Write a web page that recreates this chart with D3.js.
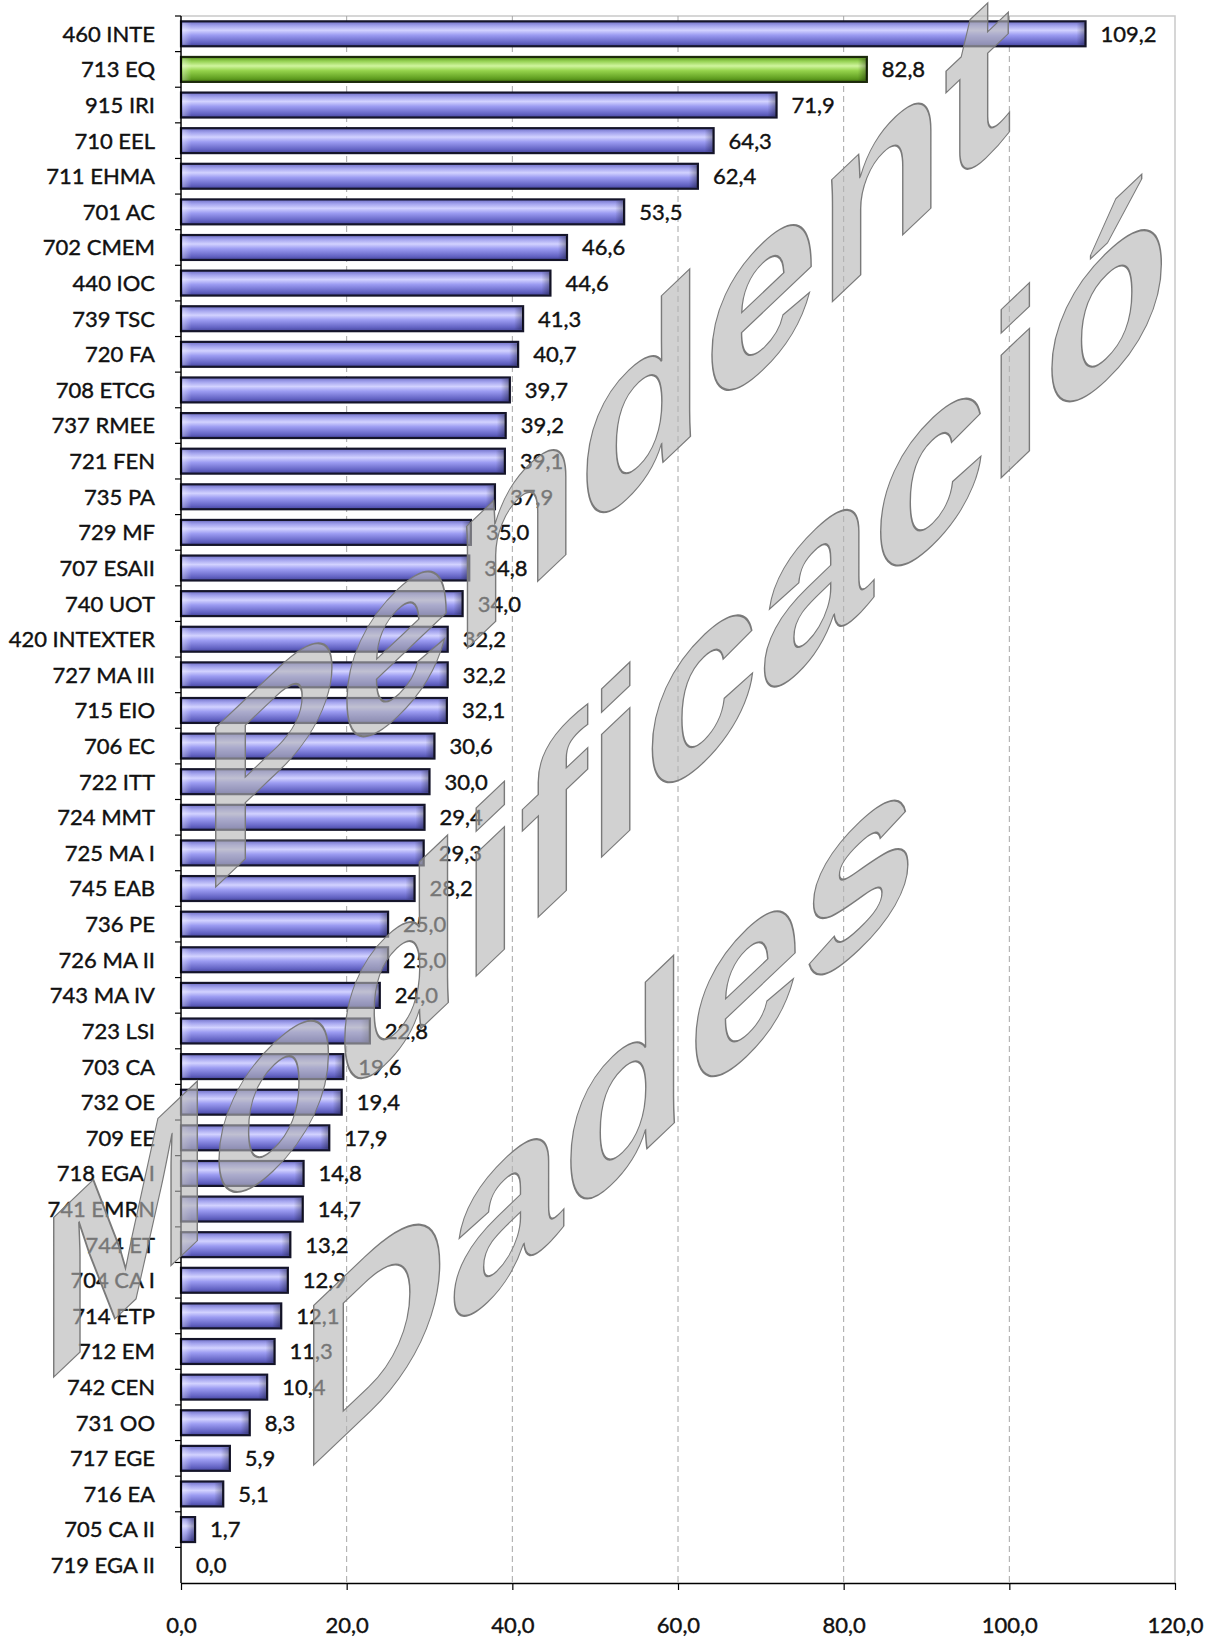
<!DOCTYPE html>
<html>
<head>
  <meta charset="utf-8">
  <title>Bar chart</title>
  <script src="https://d3js.org/d3.v7.min.js"></script>
  <style type="text/css">
    body {
      margin: 0;
      background: #fff;
    }

    text {
      font-family: Lato, "Open Sans", sans-serif;
    }

    .cat-label, .value-label, .tick-label {
      font-size: 22px;
      fill: #111;
      stroke: #111;
      stroke-width: 0.4px;
    }

    .grid {
      stroke: #a6a6a6;
      stroke-width: 1;
      stroke-dasharray: 6,4;
    }

    .frame {
      stroke: #c9c9c9;
      stroke-width: 1.5;
      fill: none;
    }

    .watermark {
      font-family: "Liberation Sans", Arial, sans-serif;
      font-weight: bold;
      font-size: 232px;
      fill: #b4b4b4;
      fill-opacity: 0.62;
      stroke: #7a7a7a;
      stroke-width: 1.6;
    }
  </style>
</head>
<body>
<script>
var categories = ['460 INTE', '713 EQ', '915 IRI', '710 EEL', '711 EHMA', '701 AC', '702 CMEM',
  '440 IOC', '739 TSC', '720 FA', '708 ETCG', '737 RMEE', '721 FEN', '735 PA', '729 MF',
  '707 ESAII', '740 UOT', '420 INTEXTER', '727 MA III', '715 EIO', '706 EC', '722 ITT',
  '724 MMT', '725 MA I', '745 EAB', '736 PE', '726 MA II', '743 MA IV', '723 LSI', '703 CA',
  '732 OE', '709 EE', '718 EGA I', '741 EMRN', '744 ET', '704 CA I', '714 ETP', '712 EM',
  '742 CEN', '731 OO', '717 EGE', '716 EA', '705 CA II', '719 EGA II'];

var values = [109.2, 82.8, 71.9, 64.3, 62.4, 53.5, 46.6,
  44.6, 41.3, 40.7, 39.7, 39.2, 39.1, 37.9, 35.0,
  34.8, 34.0, 32.2, 32.2, 32.1, 30.6, 30.0,
  29.4, 29.3, 28.2, 25.0, 25.0, 24.0, 22.8, 19.6,
  19.4, 17.9, 14.8, 14.7, 13.2, 12.9, 12.1, 11.3,
  10.4, 8.3, 5.9, 5.1, 1.7, 0.0];

var highlighted = ['713 EQ'];

var xTicks = [0, 20, 40, 60, 80, 100, 120];

var watermarkLines = ['Pendent', 'Modificació', 'Dades'];

var width = 1209,
    height = 1639;

// plot area edges (don't call these top/left: window.top is read-only)
var plotLeft = 181, plotRight = 1175, plotTop = 16, plotBottom = 1583;

var data = categories.map(function(c, i) { return {name: c, value: values[i]}; });

var svg = d3.select('body').append('svg')
    .attr('width', width)
    .attr('height', height);

var defs = svg.append('defs');

function barGradient(id, stops) {
  var g = defs.append('linearGradient')
      .attr('id', id)
      .attr('x1', 0).attr('y1', 0)
      .attr('x2', 0).attr('y2', 1);
  stops.forEach(function(s) {
    g.append('stop').attr('offset', s[0]).attr('stop-color', s[1]);
  });
}

barGradient('blueBar', [[0, '#6d6dc6'], [0.18, '#a4a4ee'], [0.36, '#d2d2ff'], [0.55, '#9c9cf2'], [0.85, '#6464c4'], [1, '#45459c']]);
barGradient('greenBar', [[0, '#5f9a1e'], [0.18, '#98d456'], [0.36, '#d0f59e'], [0.55, '#95d34c'], [0.85, '#62a022'], [1, '#44780e']]);

// little bevel at the right end of each bar
var bevel = defs.append('linearGradient')
    .attr('id', 'bevel')
    .attr('x1', 0).attr('y1', 0)
    .attr('x2', 1).attr('y2', 0);
bevel.append('stop').attr('offset', 0).attr('stop-color', '#000').attr('stop-opacity', 0);
bevel.append('stop').attr('offset', 1).attr('stop-color', '#000').attr('stop-opacity', 0.35);

// and a lighter one at the left end
var bevelLeft = defs.append('linearGradient')
    .attr('id', 'bevelLeft')
    .attr('x1', 0).attr('y1', 0)
    .attr('x2', 1).attr('y2', 0);
bevelLeft.append('stop').attr('offset', 0).attr('stop-color', '#fff').attr('stop-opacity', 0.35);
bevelLeft.append('stop').attr('offset', 1).attr('stop-color', '#fff').attr('stop-opacity', 0);

var x = d3.scaleLinear()
    .domain([0, 120])
    .range([plotLeft, plotRight]);

var y = d3.scaleBand()
    .domain(categories)
    .range([plotTop, plotBottom])
    .paddingInner(0.3)
    .paddingOuter(0.15);

var yOuter = d3.scaleBand()
    .domain(categories)
    .range([plotTop, plotBottom]);

// plot frame (top + right)
svg.append('path')
    .attr('class', 'frame')
    .attr('d', 'M' + plotLeft + ',' + plotTop + 'H' + plotRight + 'V' + plotBottom);

// grid lines
svg.append('g').selectAll('line')
  .data(xTicks.filter(function(t) { return t > 0 && t < 120; }))
  .enter()
  .append('line')
    .attr('class', 'grid')
    .attr('x1', function(d) { return x(d); })
    .attr('x2', function(d) { return x(d); })
    .attr('y1', plotTop)
    .attr('y2', plotBottom);

// bars
var bars = svg.append('g');
var shown = data.filter(function(d) { return d.value > 0; });

bars.selectAll('.bar')
  .data(shown)
  .enter()
  .append('rect')
    .attr('class', 'bar')
    .attr('x', x(0))
    .attr('y', function(d) { return y(d.name); })
    .attr('width', function(d) { return x(d.value) - x(0); })
    .attr('height', y.bandwidth())
    .attr('fill', function(d) {
      return highlighted.indexOf(d.name) >= 0 ? 'url(#greenBar)' : 'url(#blueBar)';
    })
    .attr('stroke', function(d) {
      return highlighted.indexOf(d.name) >= 0 ? '#1d2a0c' : '#15152a';
    })
    .attr('stroke-width', 2.2);

bars.selectAll('.bevel')
  .data(shown)
  .enter()
  .append('rect')
    .attr('class', 'bevel')
    .attr('x', function(d) { return Math.max(x(0), x(d.value) - 9); })
    .attr('y', function(d) { return y(d.name) + 1.5; })
    .attr('width', function(d) { return Math.min(9, x(d.value) - x(0)); })
    .attr('height', y.bandwidth() - 3)
    .attr('fill', 'url(#bevel)');

bars.selectAll('.bevel-left')
  .data(shown)
  .enter()
  .append('rect')
    .attr('class', 'bevel-left')
    .attr('x', x(0) + 1.5)
    .attr('y', function(d) { return y(d.name) + 1.5; })
    .attr('width', function(d) { return Math.min(9, x(d.value) - x(0) - 3); })
    .attr('height', y.bandwidth() - 3)
    .attr('fill', 'url(#bevelLeft)');

// value labels
svg.append('g').selectAll('text')
  .data(data)
  .enter()
  .append('text')
    .attr('class', 'value-label')
    .attr('x', function(d) { return x(d.value) + 15; })
    .attr('y', function(d) { return y(d.name) + y.bandwidth() / 2; })
    .attr('dy', '0.36em')
    .text(function(d) { return d3.format('.1f')(d.value).replace('.', ','); });

// y axis
var yAxis = svg.append('g')
    .attr('transform', 'translate(' + plotLeft + ',0)');

yAxis.append('line')
    .attr('x1', 0).attr('x2', 0)
    .attr('y1', plotTop).attr('y2', plotBottom)
    .attr('stroke', '#000')
    .attr('stroke-width', 1.5);

yAxis.selectAll('.ytick')
  .data(categories)
  .enter()
  .append('line')
    .attr('class', 'ytick')
    .attr('x1', -6).attr('x2', 0)
    .attr('y1', function(d) { return yOuter(d); })
    .attr('y2', function(d) { return yOuter(d); })
    .attr('stroke', '#000')
    .attr('stroke-width', 1.2);

yAxis.selectAll('.cat-label')
  .data(categories)
  .enter()
  .append('text')
    .attr('class', 'cat-label')
    .attr('x', -26)
    .attr('y', function(d) { return y(d) + y.bandwidth() / 2; })
    .attr('dy', '0.36em')
    .attr('text-anchor', 'end')
    .text(function(d) { return d; });

// x axis
var xAxis = svg.append('g')
    .attr('transform', 'translate(0,' + plotBottom + ')')
    .call(d3.axisBottom(x)
      .tickValues(xTicks)
      .tickSize(7)
      .tickSizeOuter(0)
      .tickFormat(function(d) { return d3.format('.1f')(d).replace('.', ','); }));

xAxis.select('.domain')
    .attr('stroke', '#000')
    .attr('stroke-width', 1.5);

xAxis.selectAll('.tick line')
    .attr('stroke', '#000')
    .attr('stroke-width', 1.2);

xAxis.selectAll('.tick text')
    .attr('class', 'tick-label')
    .attr('y', 42)
    .attr('dy', '0.36em')
    .style('font-family', 'Lato, sans-serif')
    .style('font-size', '22px');

// watermark, slanted WordArt style (verticals stay vertical)
var wmOrigins = [[202, 900], [40, 1390], [300, 1478]];

svg.append('g').selectAll('.watermark')
  .data(watermarkLines)
  .enter()
  .append('text')
    .attr('class', 'watermark')
    .attr('transform', function(d, i) {
      return 'matrix(0.885,-0.84,0,1,' + wmOrigins[i][0] + ',' + wmOrigins[i][1] + ')';
    })
    .text(function(d) { return d; });
</script>
</body>
</html>
